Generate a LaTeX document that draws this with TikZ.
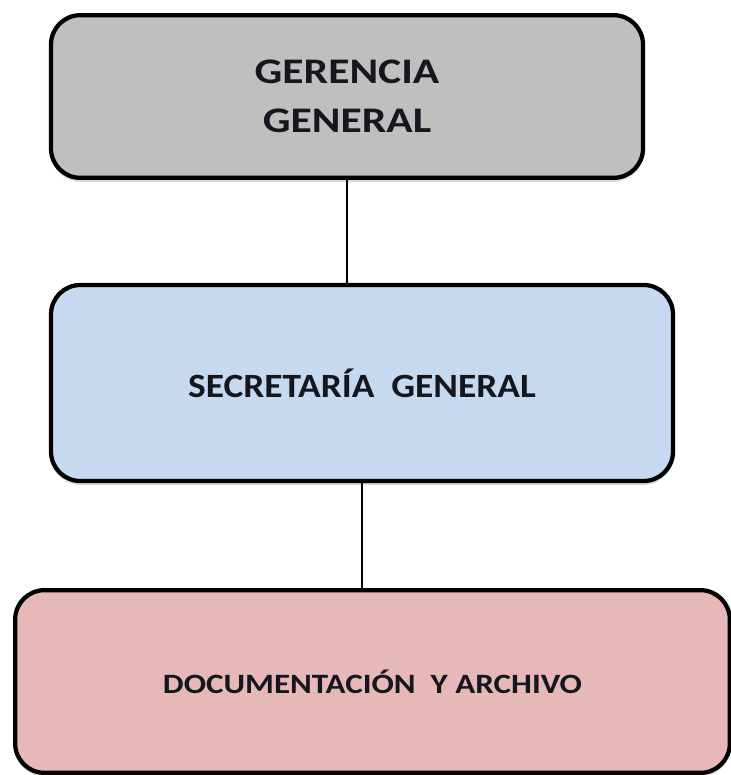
\documentclass[tikz,border=0pt]{standalone}
\usepackage{fontspec}
\setmainfont{Carlito}
\usetikzlibrary{shadows}
\definecolor{boxgray}{RGB}{191,191,191}
\definecolor{boxblue}{RGB}{198,217,241}
\definecolor{boxpink}{RGB}{230,184,183}
\definecolor{inkdark}{RGB}{22,22,30}
\begin{document}
\begin{tikzpicture}[x=0.75pt,y=0.75pt,yscale=-1,xscale=1,
  unitbox/.style={draw=black,line width=3.2pt,rounded corners=22pt,align=center,
    text=inkdark,font=\bfseries,
    drop shadow={opacity=0.3,shadow xshift=0pt,shadow yshift=-3pt}},
  link/.style={draw=black,line width=1.6pt}]
\useasboundingbox (0,0) rectangle (731,775);

%Rounded Rect: Gerencia
\node (gerencia) [unitbox,fill=boxgray,minimum width=444pt,minimum height=122pt,
  font=\bfseries\addfontfeatures{FakeStretch=1.21}\fontsize{27}{36.75}\selectfont] at (347,96.5) {GERENCIA\\GENERAL};
%Rounded Rect: Secretaria
\node (secretaria) [unitbox,fill=boxblue,minimum width=466.5pt,minimum height=147pt,
  font=\bfseries\addfontfeatures{FakeStretch=1.10}\fontsize{25.5}{30}\selectfont] at (362,383) {SECRETARÍA~~GENERAL};
%Rounded Rect: Documentacion
\node (archivo) [unitbox,fill=boxpink,minimum width=536pt,minimum height=137pt,
  font=\bfseries\addfontfeatures{FakeStretch=1.18}\fontsize{21}{26}\selectfont] at (372.5,681.5) {DOCUMENTACIÓN~~Y ARCHIVO};

%Straight Lines
\draw [link] (gerencia.south) -- (gerencia.south |- secretaria.north) ;
\draw [link] (secretaria.south) -- (secretaria.south |- archivo.north) ;

\end{tikzpicture}
\end{document}
